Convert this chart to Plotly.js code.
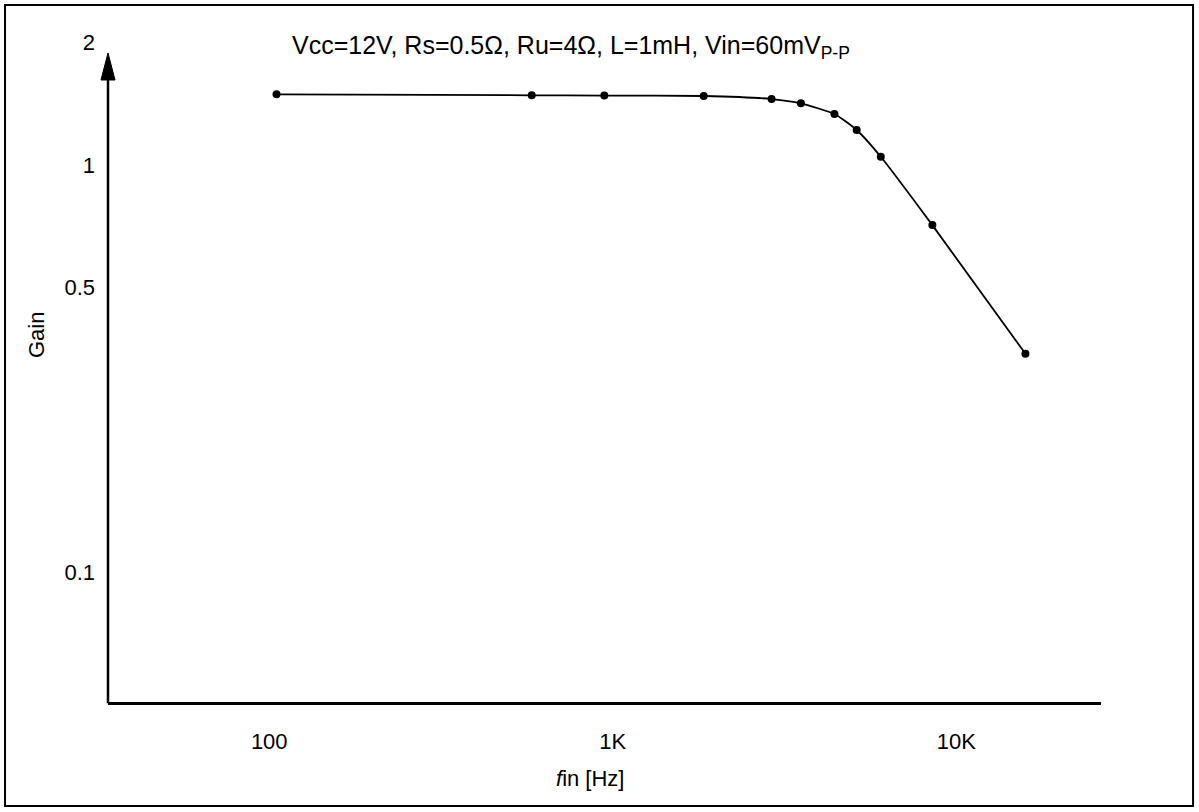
<!DOCTYPE html>
<html>
<head>
<meta charset="utf-8">
<script src="https://cdn.plot.ly/plotly-3.0.1.min.js"></script>
<style>
  html, body { margin: 0; padding: 0; background: #ffffff; }
  #chart { width: 1199px; height: 812px; }
</style>
</head>
<body>
<div id="chart"></div>
<script>
const freqHz = [105, 581, 945, 1840, 2900, 3530, 4420, 5130, 6030, 8520, 15900];
const gain   = [1.491, 1.483, 1.481, 1.477, 1.452, 1.417, 1.334, 1.219, 1.048, 0.712, 0.344];

// Tick labels
const xTickVals = [100, 1000, 10000];
const xTickText = ['100', '1K', '10K'];
const yTickVals = [0.1, 0.5, 1, 2];
const yTickText = ['0.1', '0.5', '1', '2'];

const FONT = 'Arial, "Liberation Sans", Helvetica, sans-serif';

const trace = {
  x: freqHz,
  y: gain,
  type: 'scatter',
  mode: 'lines+markers',
  line: { color: '#000000', width: 1.8, shape: 'spline', smoothing: 0.5 },
  marker: { color: '#000000', size: 8 },
  hoverinfo: 'x+y',
  showlegend: false
};

const layout = {
  width: 1199,
  height: 812,
  autosize: false,
  paper_bgcolor: '#ffffff',
  plot_bgcolor: '#ffffff',
  margin: { l: 108, r: 98, t: 30, b: 110, pad: 0 },
  font: { family: FONT, size: 22, color: '#000000' },
  title: {
    text: 'Vcc=12V, Rs=0.5Ω, Ru=4Ω, L=1mH, Vin=60mV<sub>P-P</sub>',
    font: { family: FONT, size: 25, color: '#000000' },
    xref: 'paper', x: 0.1853, xanchor: 'left',
    yref: 'container', y: 0.9446, yanchor: 'middle'
  },
  xaxis: {
    type: 'log',
    range: [1.5306, 4.4214],
    tickvals: xTickVals,
    ticktext: xTickText,
    ticks: '',
    ticklabelstandoff: 18,
    showgrid: false,
    zeroline: false,
    showline: true,
    linecolor: '#000000',
    linewidth: 3,
    tickfont: { family: FONT, size: 22, color: '#000000' },
    fixedrange: true
  },
  yaxis: {
    type: 'log',
    range: [-1.3181, 0.3314],
    tickvals: yTickVals,
    ticktext: yTickText,
    ticks: '',
    ticklabelstandoff: 12,
    showgrid: false,
    zeroline: false,
    showline: false,
    tickfont: { family: FONT, size: 22, color: '#000000' },
    fixedrange: true
  },
  annotations: [
    {
      text: 'Gain',
      xref: 'paper', yref: 'paper',
      x: -0.0725, y: 0.546,
      xanchor: 'center', yanchor: 'middle',
      textangle: -90,
      showarrow: false,
      font: { family: FONT, size: 22, color: '#000000' }
    },
    {
      text: '<i>f</i>in [Hz]',
      xref: 'paper', yref: 'paper',
      x: 0.485, y: -0.1131,
      xanchor: 'center', yanchor: 'middle',
      showarrow: false,
      font: { family: FONT, size: 22, color: '#000000' }
    }
  ],
  shapes: [
    // vertical axis line up to the arrow head
    {
      type: 'line', xref: 'paper', yref: 'paper',
      x0: 0, x1: 0, y0: -0.002, y1: 0.93,
      line: { color: '#000000', width: 2.5 }
    },
    // arrow head on top of the y axis
    {
      type: 'path', xref: 'paper', yref: 'paper',
      path: 'M -0.00705 0.9256 L 0.00705 0.9256 L 0 0.9658 Z',
      fillcolor: '#000000', line: { color: '#000000', width: 1 }
    },
    // frame around the whole figure
    {
      type: 'rect', xref: 'paper', yref: 'paper',
      x0: -0.1037, x1: 1.0927, y0: -0.1548, y1: 1.0372,
      line: { color: '#000000', width: 2 },
      fillcolor: 'rgba(0,0,0,0)'
    }
  ]
};

Plotly.newPlot('chart', [trace], layout, { staticPlot: true, displayModeBar: false });
</script>
</body>
</html>
